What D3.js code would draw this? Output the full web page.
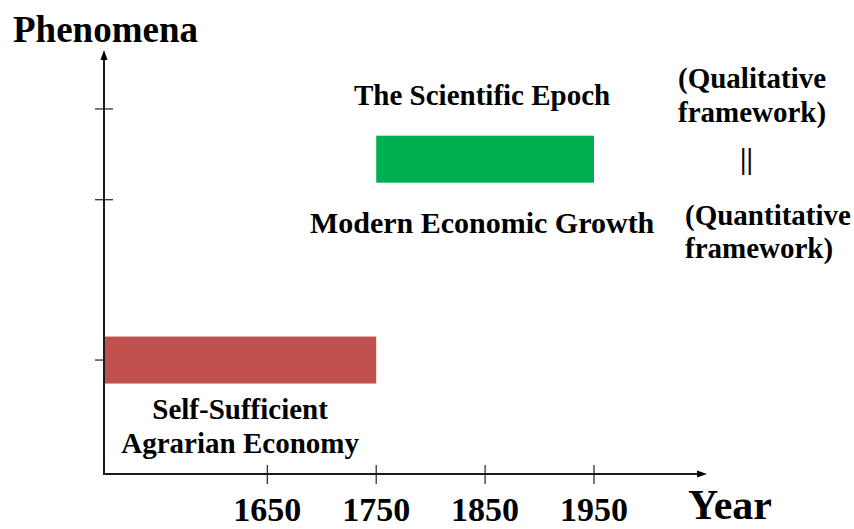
<!DOCTYPE html>
<meta charset="utf-8">
<style>
body { margin: 0; background: #fff; }
text { font-family: "Liberation Serif", "Times New Roman", serif; font-weight: bold; fill: #000; }
.axis-line { stroke: #1a1a1a; stroke-width: 2; }
.tick-line { stroke: #333; stroke-width: 1.3; }
</style>
<svg width="854" height="529"></svg>
<script src="https://cdn.jsdelivr.net/npm/d3@7"></script>
<script>
// year ticks along the x axis
var yearTicks = [1650, 1750, 1850, 1950];
// phenomena level ticks along the y axis (0-100 scale)
var levelTicks = [27, 65, 86.5];

// bars: start year, end year, level centre, colour
var barNames  = ["Self-Sufficient Agrarian Economy", "Modern Economic Growth"];
var barStart  = [1500, 1750];
var barEnd    = [1750, 1950];
var barLevel  = [27, 74.6];
var barColor  = ["#c0504d", "#00b050"];

var svg = d3.select("svg");

var x = d3.scaleLinear().domain([1500, 1950]).range([104, 594]);
var y = d3.scaleLinear().domain([0, 100]).range([474, 52]);
var barH = 47;

// bars
svg.selectAll("rect.bar")
  .data(barNames)
  .enter().append("rect")
    .attr("class", "bar")
    .attr("x", function(d, i) { return x(barStart[i]); })
    .attr("width", function(d, i) { return x(barEnd[i]) - x(barStart[i]); })
    .attr("y", function(d, i) { return y(barLevel[i]) - barH / 2; })
    .attr("height", barH)
    .attr("fill", function(d, i) { return barColor[i]; });

// y ticks (drawn under the bars, like the original)
svg.insert("g", "rect").selectAll("line")
  .data(levelTicks)
  .enter().append("line")
    .attr("class", "tick-line")
    .attr("x1", x(1500) - 9).attr("x2", x(1500) + 9)
    .attr("y1", function(d) { return y(d); })
    .attr("y2", function(d) { return y(d); });

// x ticks
svg.append("g").selectAll("line")
  .data(yearTicks)
  .enter().append("line")
    .attr("class", "tick-line")
    .attr("x1", function(d) { return x(d); })
    .attr("x2", function(d) { return x(d); })
    .attr("y1", y(0) - 9).attr("y2", y(0) + 10);

// axes with arrow heads
var x0 = x(1500), yb = y(0);
svg.append("line").attr("class", "axis-line")
  .attr("x1", x0).attr("x2", x0).attr("y1", yb + 1).attr("y2", 58);
svg.append("line").attr("class", "axis-line")
  .attr("x1", x0 - 1).attr("x2", 700).attr("y1", yb).attr("y2", yb);
svg.append("path").attr("fill", "#000")
  .attr("d", "M" + x0 + ",50 L" + (x0 - 3.5) + ",60 L" + (x0 + 3.5) + ",60 Z");
svg.append("path").attr("fill", "#000")
  .attr("d", "M707," + yb + " L697," + (yb - 3.5) + " L697," + (yb + 3.5) + " Z");

// year labels
svg.append("g").selectAll("text")
  .data(yearTicks)
  .enter().append("text")
    .attr("x", function(d) { return x(d); })
    .attr("y", 521)
    .attr("text-anchor", "middle")
    .style("font-size", "34px")
    .text(function(d) { return d; });

// axis titles
svg.append("text").attr("x", 13).attr("y", 42)
  .style("font-size", "37px").text("Phenomena");
svg.append("text").attr("x", 688).attr("y", 519)
  .style("font-size", "42px").text("Year");

// bar labels
var greenMid = (x(barStart[1]) + x(barEnd[1])) / 2 - 3;
var redMid = (x(barStart[0]) + x(barEnd[0])) / 2;
svg.append("text").attr("x", greenMid).attr("y", 105)
  .attr("text-anchor", "middle").style("font-size", "29px")
  .text("The Scientific Epoch");
svg.append("text").attr("x", greenMid).attr("y", 233)
  .attr("text-anchor", "middle").style("font-size", "30px")
  .text("Modern Economic Growth");
svg.append("text").attr("x", redMid).attr("y", 419)
  .attr("text-anchor", "middle").style("font-size", "29px")
  .text("Self-Sufficient");
svg.append("text").attr("x", redMid).attr("y", 453)
  .attr("text-anchor", "middle").style("font-size", "29px")
  .text("Agrarian Economy");

// right side notes
var notes = [
  { t: "(Qualitative", x: 678, y: 88 },
  { t: "framework)", x: 678, y: 122 },
  { t: "||", x: 740, y: 169 },
  { t: "(Quantitative", x: 685, y: 225 },
  { t: "framework)", x: 685, y: 258 }
];
svg.append("g").selectAll("text")
  .data(notes)
  .enter().append("text")
    .attr("x", function(d) { return d.x; })
    .attr("y", function(d) { return d.y; })
    .style("font-size", "29px")
    .text(function(d) { return d.t; });
</script>
